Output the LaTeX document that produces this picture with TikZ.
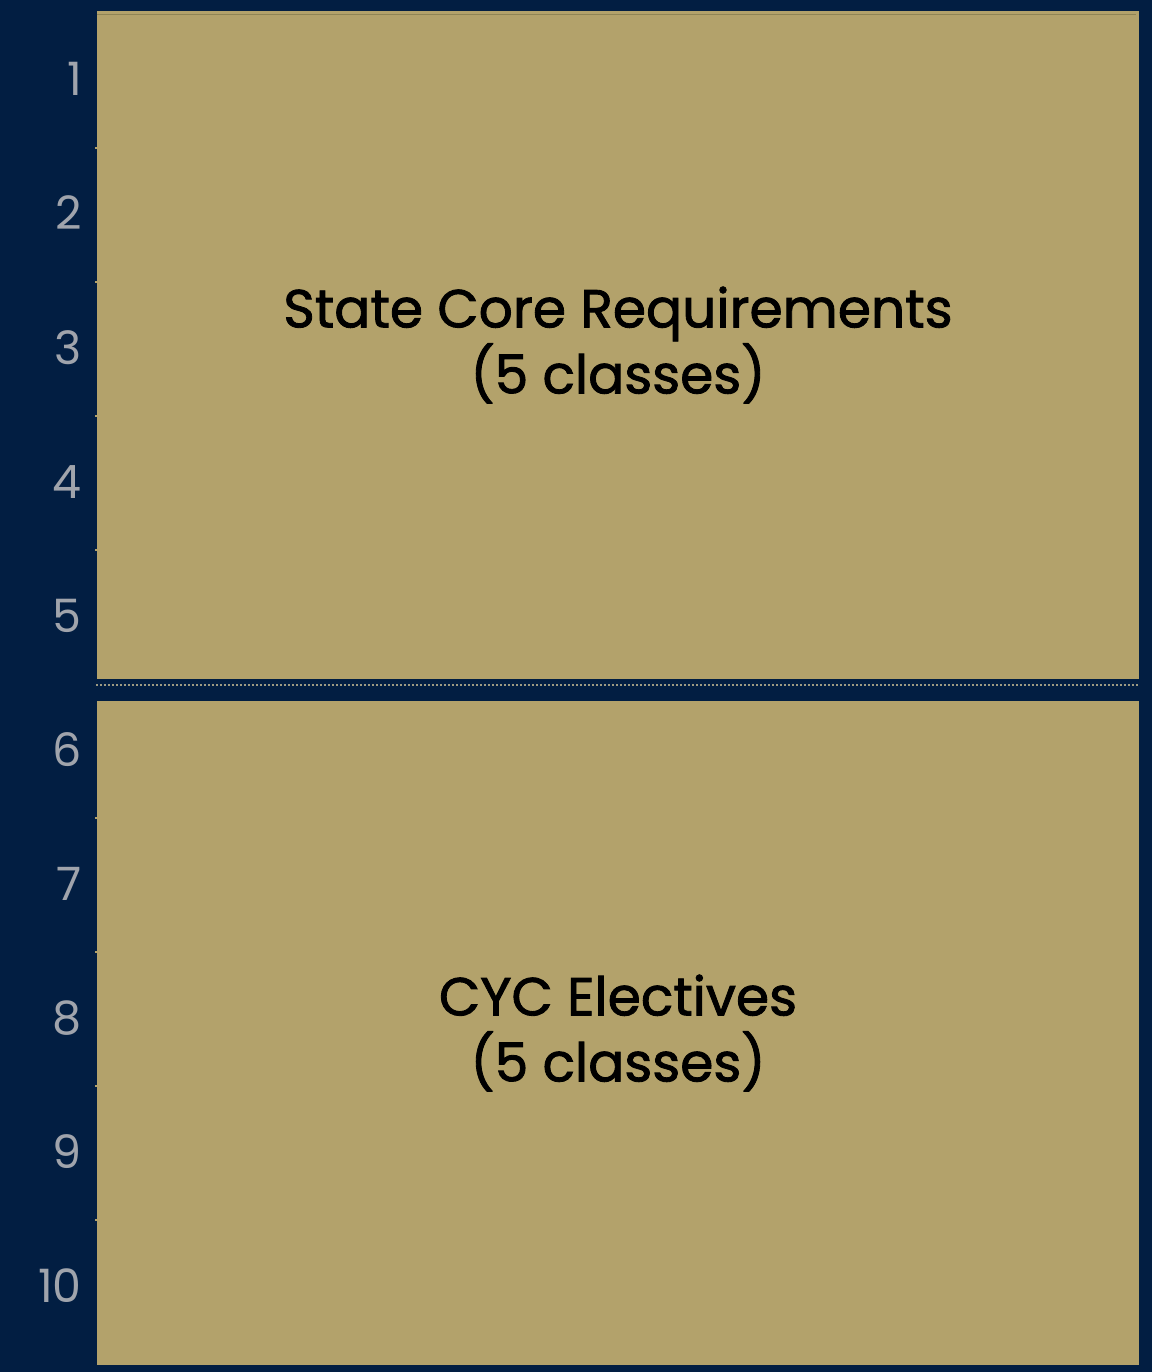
\documentclass[tikz,border=0pt]{standalone}
\usepackage{fontspec}
\newfontfamily\poppins{Poppins}
\newfontfamily\poppinsmed{Poppins}[FakeBold=1.6]
\usepackage{tikz}
\usetikzlibrary{positioning}
\usepackage{xcolor}
\definecolor{PlanNavy}{HTML}{021E42}
\definecolor{PlanGold}{HTML}{B3A26B}
\definecolor{PlanGoldDark}{HTML}{8F8455}
\definecolor{PlanGrey}{HTML}{A0A4AC}
\definecolor{PlanDots}{HTML}{9C9A82}

\begin{document}
\begin{tikzpicture}[x=1pt,y=-1pt,
    block/.style={fill=PlanGold,draw=none,minimum width=1042pt,inner sep=0pt,
      font=\poppinsmed\fontsize{53.5}{66}\selectfont,align=center},
    rownum/.style={anchor=base east,inner sep=0pt,text=PlanGrey,
      font=\poppins\fontsize{46}{50}\selectfont}]
    \fill[PlanNavy] (0,0) rectangle (1152,1372);
    \useasboundingbox (0,0) rectangle (1152,1372);
    \node[block,minimum height=668pt] (core) at (618,345) {State Core Requirements\\(5 classes)};
    \node[block,minimum height=664pt] (cyc) at (618,1033) {CYC Electives\\(5 classes)};
    \draw[PlanGoldDark,line width=1pt] ([yshift=-3.5pt]core.north west) -- ([yshift=-3.5pt,xshift=-3pt]core.north east);
    \coordinate (gapL) at ([yshift=-6pt,xshift=-1pt]core.south west);
    \coordinate (gapR) at ([yshift=-6pt,xshift=-1pt]core.south east);
    \draw[PlanDots,line width=2pt,dash pattern=on 2pt off 2pt] (gapL) -- (gapR);
    \foreach \n in {1,...,10} {
     \node[rownum] (row\n) at (82,{96+134*(\n-1)}) {\n};
    }
    \foreach \n in {1,2,3,4,6,7,8,9} {
     \fill[PlanGold] (95,{148+134*(\n-1)-1}) rectangle (97.5,{148+134*(\n-1)+1});
    }
   \end{tikzpicture}
\end{document}
